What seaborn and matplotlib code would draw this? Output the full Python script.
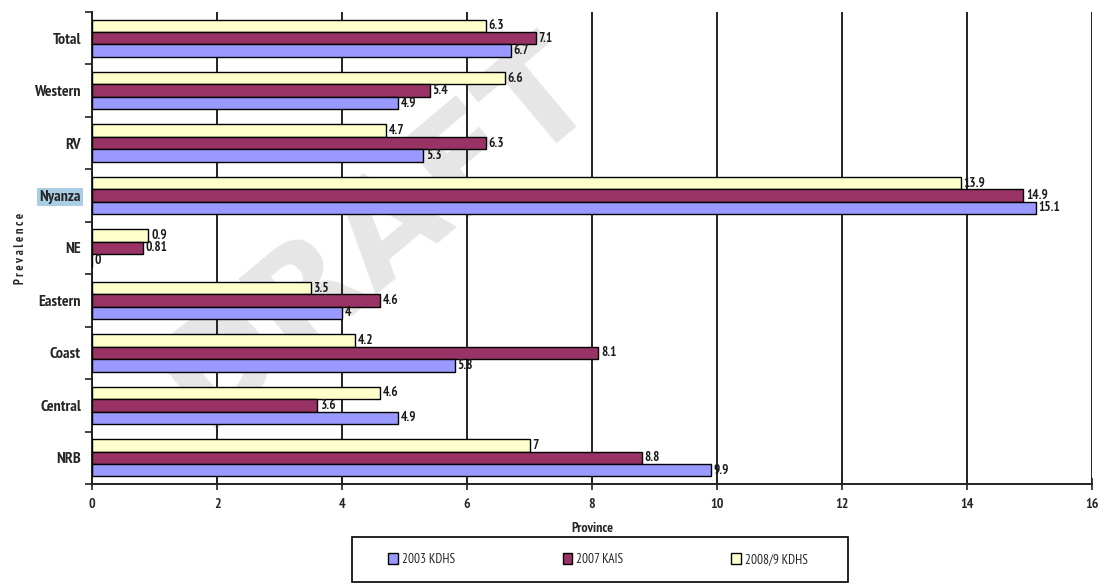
import numpy as np
import pandas as pd
import matplotlib
matplotlib.use("Agg")
import matplotlib.pyplot as plt
from matplotlib import font_manager as fm
from matplotlib.patches import Patch, Rectangle
from matplotlib.ticker import FixedLocator
import seaborn as sns

# Provinces, top to bottom
provinces = ["Total", "Western", "RV", "Nyanza", "NE", "Eastern", "Coast", "Central", "NRB"]

# HIV prevalence (%) by survey
kdhs_2003 = [6.7, 4.9, 5.3, 15.1, 0, 4, 5.8, 4.9, 9.9]
kais_2007 = [7.1, 5.4, 6.3, 14.9, 0.81, 4.6, 8.1, 3.6, 8.8]
kdhs_2008 = [6.3, 6.6, 4.7, 13.9, 0.9, 3.5, 4.2, 4.6, 7]

surveys = ["2003 KDHS", "2007 KAIS", "2008/9 KDHS"]
x_ticks = [0, 2, 4, 6, 8, 10, 12, 14, 16]

colors = {"2003 KDHS": "#9999FF", "2007 KAIS": "#993366", "2008/9 KDHS": "#FFFFCC"}
series = {"2003 KDHS": kdhs_2003, "2007 KAIS": kais_2007, "2008/9 KDHS": kdhs_2008}

df = pd.concat(
    [pd.DataFrame({"Province": provinces, "Value": vals, "Survey": name})
     for name, vals in series.items()],
    ignore_index=True,
)

sns.set_theme(style="white")

# pick a narrow sans face for all chart text
installed = {f.name for f in fm.fontManager.ttflist}
narrow_pref = ["Liberation Sans Narrow", "Arial Narrow", "PT Sans Narrow",
               "Roboto Condensed", "Archivo Narrow", "DejaVu Sans"]
narrow = [n for n in narrow_pref if n in installed][0]
plt.rcParams["font.family"] = [narrow, "DejaVu Sans"]

fig = plt.figure(figsize=(11.08, 5.84), dpi=100)
ax = fig.add_axes([92 / 1108, 1 - 484 / 584, 1000 / 1108, 472 / 584])
ax.set_facecolor("none")

# faint watermark behind the plot
fig.text(0.34, 0.60, "DRAFT", fontsize=100, fontweight="bold", rotation=40,
         color="#e6e6e6", ha="center", va="center", zorder=-1,
         family=["DejaVu Sans"])

draw_order = ["2008/9 KDHS", "2007 KAIS", "2003 KDHS"]
sns.barplot(
    data=df, y="Province", x="Value", hue="Survey", hue_order=draw_order,
    order=provinces, palette=colors, orient="h", width=0.71, saturation=1,
    edgecolor="black", linewidth=1.0, ax=ax, legend=False, zorder=3,
)

for cont, name in zip(ax.containers, draw_order):
    labels = [f"{v:g}" for v in series[name]]
    ax.bar_label(cont, labels=labels, padding=2, fontsize=9.5, fontweight="bold",
                 color="#1a1a1a")

ax.set_xlim(0, 16)
ax.set_ylim(len(provinces) - 0.5, -0.5)
ax.set_xticks(x_ticks)
ax.set_xticklabels([str(t) for t in x_ticks], fontsize=10, fontweight="bold")
ax.xaxis.grid(True, color="#222222", linewidth=1.4, zorder=1)
ax.yaxis.grid(False)
ax.set_axisbelow(True)

ax.set_yticks(range(len(provinces)))
ax.set_yticklabels(provinces, fontsize=11.5, fontweight="bold")
ax.yaxis.set_minor_locator(FixedLocator(np.arange(-0.5, len(provinces), 1.0)))
ax.tick_params(axis="y", which="major", length=0, pad=8)
ax.tick_params(axis="y", which="minor", length=5, width=1.2, color="#222222", direction="out", left=True)
ax.tick_params(axis="x", which="major", length=8, width=1.2, color="#222222", direction="inout", bottom=True, pad=6)

for lab in ax.get_yticklabels():
    if lab.get_text() == "Nyanza":
        lab.set_bbox(dict(facecolor="#A9CDE3", edgecolor="none", pad=1.5))

for side in ("top", "right"):
    ax.spines[side].set_visible(False)
for side in ("left", "bottom"):
    ax.spines[side].set_color("#222222")
    ax.spines[side].set_linewidth(1.4)

ax.set_xlabel("Province", fontsize=10, fontweight="bold", labelpad=8)
ax.set_ylabel("P r e v a l e n c e", fontsize=9, fontweight="bold", labelpad=5)

# legend box below the axis
fig.add_artist(Rectangle((352 / 1108, 2 / 584), 496 / 1108, 45 / 584,
                         transform=fig.transFigure, facecolor="white",
                         edgecolor="black", linewidth=1.2, zorder=4))
handles = [Patch(facecolor=colors[s], edgecolor="black", linewidth=1.0) for s in surveys]
leg = fig.legend(
    handles, surveys, loc="center", ncol=3,
    bbox_to_anchor=(598 / 1108, 24.5 / 584),
    fontsize=9.5, frameon=False, columnspacing=8.2,
    handlelength=0.7, handleheight=0.9, handletextpad=0.3,
)
leg.set_zorder(5)

fig.savefig("out.png", dpi=100)
